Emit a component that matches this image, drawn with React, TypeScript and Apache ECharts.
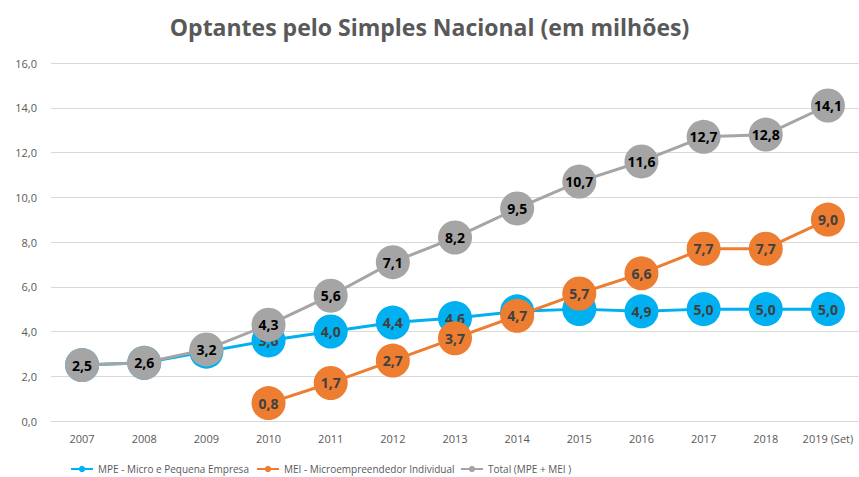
import React, { useEffect, useRef } from "react";
import * as echarts from "echarts";

const categories = ["2007", "2008", "2009", "2010", "2011", "2012", "2013", "2014", "2015", "2016", "2017", "2018", "2019 (Set)"];
const seriesNames = ["MPE - Micro e Pequena Empresa", "MEI - Microempreendedor Individual", "Total (MPE + MEI )"];
const mpe = [2.5, 2.6, 3.1, 3.6, 4.0, 4.4, 4.6, 4.9, 5.0, 4.9, 5.0, 5.0, 5.0];
const mei = [null, null, null, 0.8, 1.7, 2.7, 3.7, 4.7, 5.7, 6.6, 7.7, 7.7, 9.0];
const total = [2.5, 2.6, 3.2, 4.3, 5.6, 7.1, 8.2, 9.5, 10.7, 11.6, 12.7, 12.8, 14.1];
const mpeHiddenLabels = ["2014", "2015"];

const FONT = "'Open Sans', 'Noto Sans', sans-serif";
const fmt = (v: number) => v.toFixed(1).replace(".", ",");

export default function App() {
  const ref = useRef<HTMLDivElement>(null);
  useEffect(() => {
    if (!ref.current) return;
    const chart = echarts.init(ref.current, undefined, { renderer: "svg" });
    const labelBase = {
      show: true,
      position: "inside" as const,
      fontFamily: FONT,
      fontWeight: "bold" as const,
      fontSize: 14,
      color: "#404040",
      formatter: (p: any) => fmt(p.value),
    };
    const legendLefts = [70, 256, 460];
    chart.setOption({
      animation: false,
      backgroundColor: "#ffffff",
      title: {
        text: "Optantes pelo Simples Nacional (em milhões)",
        left: "center",
        top: 10,
        textStyle: { fontFamily: FONT, fontWeight: "bold", fontSize: 23, color: "#595959" },
      },
      grid: { left: 51, right: 0, top: 63, bottom: 56 },
      xAxis: {
        type: "category",
        data: categories,
        boundaryGap: true,
        axisLine: { show: true, lineStyle: { color: "#D9D9D9" } },
        axisTick: { show: false },
        axisLabel: { interval: 0, fontFamily: FONT, fontSize: 11, color: "#595959", margin: 12 },
      },
      yAxis: {
        type: "value",
        min: 0,
        max: 16,
        interval: 2,
        axisLabel: { fontFamily: FONT, fontSize: 11, color: "#595959", formatter: (v: number) => fmt(v), margin: 14 },
        splitLine: { lineStyle: { color: "#D9D9D9", width: 1 } },
        axisLine: { show: false },
        axisTick: { show: false },
      },
      legend: seriesNames.map((n, i) => ({
        bottom: 3,
        left: legendLefts[i],
        itemWidth: 22,
        itemHeight: 8,
        itemGap: 0,
        padding: 0,
        textStyle: { fontFamily: FONT, fontSize: 10, color: "#595959" },
        data: [n],
      })),
      series: [
        {
          name: seriesNames[0],
          type: "line",
          z: 2,
          data: mpe.map((v, i) => ({
            value: v,
            label: mpeHiddenLabels.includes(categories[i]) ? { show: false } : undefined,
          })),
          symbol: "circle",
          symbolSize: 34,
          lineStyle: { color: "#00B0F0", width: 3 },
          itemStyle: { color: "#00B0F0" },
          label: labelBase,
        },
        {
          name: seriesNames[1],
          type: "line",
          z: 3,
          data: mei,
          symbol: "circle",
          symbolSize: 34,
          lineStyle: { color: "#ED7D31", width: 3 },
          itemStyle: { color: "#ED7D31" },
          label: labelBase,
        },
        {
          name: seriesNames[2],
          type: "line",
          z: 4,
          data: total,
          symbol: "circle",
          symbolSize: 34,
          lineStyle: { color: "#A5A5A5", width: 3 },
          itemStyle: { color: "#A5A5A5" },
          label: { ...labelBase, color: "#000000" },
        },
      ],
    });
    return () => chart.dispose();
  }, []);
  return <div ref={ref} style={{ width: 859, height: 477, position: "absolute", left: 0, top: 0 }} />;
}
